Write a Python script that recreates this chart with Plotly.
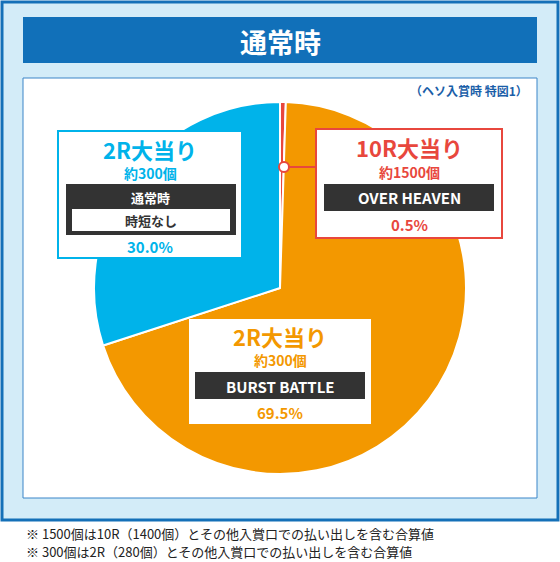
import plotly.graph_objects as go

labels = ["10R大当り", "2R大当り(BURST BATTLE)", "2R大当り(通常時)"]
values = [0.5, 69.5, 30.0]
colors = ["#e8473d", "#f39800", "#00b3ea"]

W, H = 560, 562
FONT = "Noto Sans CJK JP"
def X(px): return px / W
def Y(py): return 1 - py / H

shapes, ann = [], []
def rect(x0, y0, x1, y1, fill, line=None, lw=0, layer="above"):
    shapes.append(dict(type="rect", xref="paper", yref="paper", x0=X(x0), x1=X(x1), y0=Y(y1), y1=Y(y0),
                       fillcolor=fill, line=dict(color=line or fill, width=lw), layer=layer))
def text(x, y, t, size, color, anchor="center"):
    ann.append(dict(xref="paper", yref="paper", x=X(x), y=Y(y), text=t, showarrow=False, xanchor=anchor,
                    yanchor="middle", font=dict(family=FONT, size=size, color=color, weight="bold")))

# background card
rect(2, 2, 558, 520, "#d3ecf8", "#1470b8", 3, "below")
rect(23, 17, 537, 63, "#1170b9", None, 0, "below")
text(280, 41, "通常時", 27, "white")
rect(23, 78, 537, 498, "white", "#3a85c8", 1, "below")
text(530, 90, "（ヘソ入賞時 特図1）", 12, "#1a5ea8", "right")

# cyan label
rect(58, 131, 242, 258, "white", "#00b3ea", 2)
text(150, 149, "2R大当り", 22, "#00b3ea")
text(150, 173, "約300個", 14, "#00b3ea")
rect(66, 184, 236, 235, "#333333")
text(150, 197, "通常時", 13, "white")
rect(72, 209, 230, 231, "white")
text(151, 220, "時短なし", 13, "#333333")
text(150, 247, f"{values[2]:.1f}%", 15, "#00b3ea")

# red label
shapes.append(dict(type="line", xref="paper", yref="paper", x0=X(284), x1=X(317), y0=Y(167), y1=Y(167),
                   line=dict(color="#e8473d", width=2)))
shapes.append(dict(type="circle", xref="paper", yref="paper", x0=X(279), x1=X(289), y0=Y(172), y1=Y(162),
                   fillcolor="white", line=dict(color="#e8473d", width=2)))
rect(316, 129, 502, 238, "white", "#e8473d", 2)
text(409, 147, "10R大当り", 22, "#e8473d")
text(409, 172, "約1500個", 14, "#e8473d")
rect(324, 184, 494, 211, "#333333")
text(409, 197, "OVER HEAVEN", 15, "white")
text(409, 224, f"{values[0]:.1f}%", 15, "#e8473d")

# orange label
rect(189, 319, 371, 424, "white")
text(280, 336, "2R大当り", 22, "#f39800")
text(280, 360, "約300個", 14, "#f39800")
rect(195, 372, 365, 399, "#333333")
text(280, 386, "BURST BATTLE", 15, "white")
text(280, 412, f"{values[1]:.1f}%", 15, "#f39800")

# footnotes
for i, t in enumerate(["※ 1500個は10R（1400個）とその他入賞口での払い出しを含む合算値",
                       "※ 300個は2R（280個）とその他入賞口での払い出しを含む合算値"]):
    ann.append(dict(xref="paper", yref="paper", x=X(24), y=Y(533 + 18 * i), text=t, showarrow=False,
                    xanchor="left", yanchor="middle", font=dict(family=FONT, size=13, color="#222")))

fig = go.Figure(go.Pie(labels=labels, values=values, sort=False, direction="clockwise", rotation=0,
                       marker=dict(colors=colors, line=dict(color="white", width=2)),
                       textinfo="none", hoverinfo="none",
                       domain=dict(x=[X(94), X(466)], y=[Y(474), Y(102)])))
fig.update_layout(width=W, height=H, margin=dict(l=0, r=0, t=0, b=0), showlegend=False,
                  paper_bgcolor="white", shapes=shapes, annotations=ann)
fig.write_html("out.html", config={"displayModeBar": False},
               post_script="document.body.style.margin='0';document.body.style.overflow='hidden';")
